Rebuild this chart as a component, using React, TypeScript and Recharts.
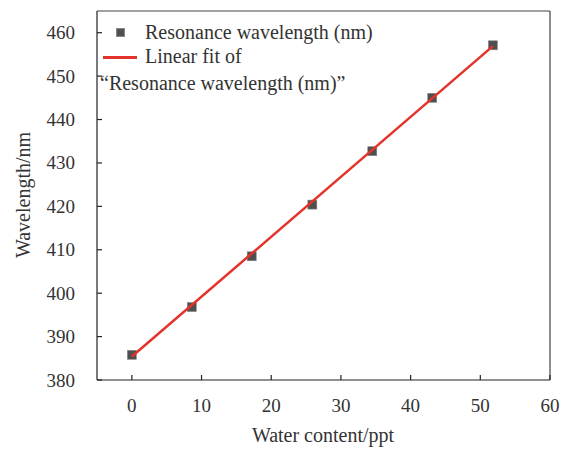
import React from 'react';
import { ScatterChart, Scatter, XAxis, YAxis, ReferenceLine } from 'recharts';

// measured points (water content in ppt vs resonance wavelength in nm)
const waterContent = [0, 8.6, 17.2, 25.9, 34.5, 43.1, 51.8];
const wavelength = [385.8, 396.8, 408.5, 420.4, 432.7, 445.0, 457.1];

// linear fit end points
const fitX = [0, 51.8];
const fitY = [385.4, 456.9];

const xTicks = [0, 10, 20, 30, 40, 50, 60];
const yTicks = [380, 390, 400, 410, 420, 430, 440, 450, 460];

const FONT = '"Liberation Serif", "Times New Roman", serif';
const TEXT = '#333';

const points = waterContent.map((x, i) => ({ x, y: wavelength[i] }));
const fit = fitX.map((x, i) => ({ x, y: fitY[i] }));

const Square = (props: any) => {
  const { cx, cy } = props;
  if (cx == null || cy == null) return null;
  return <rect x={cx - 4.5} y={cy - 4.5} width={9} height={9} fill="#4f4f4f" stroke="#8a8a8a" strokeWidth={0.6} />;
};

const XTick = (props: any) => {
  const { x, y, payload } = props;
  return (
    <g>
      <line x1={x} y1={y} x2={x} y2={y - 5} stroke="#222" strokeWidth={1.2} />
      <text x={x} y={y + 32} textAnchor="middle" fill={TEXT} fontSize={19} fontFamily={FONT}>
        {payload.value}
      </text>
    </g>
  );
};

const YTick = (props: any) => {
  const { x, y, payload } = props;
  return (
    <g>
      <line x1={x} y1={y} x2={x + 5} y2={y} stroke="#222" strokeWidth={1.2} />
      <text x={x - 22} y={y + 6.5} textAnchor="end" fill={TEXT} fontSize={19} fontFamily={FONT}>
        {payload.value}
      </text>
    </g>
  );
};

export default function App() {
  return (
    <div style={{ position: 'absolute', left: 0, top: 0, width: 562, height: 449, background: '#fff' }}>
      <ScatterChart width={562} height={449} margin={{ top: 11, right: 12, bottom: 29, left: 47 }}>
        <XAxis
          type="number"
          dataKey="x"
          domain={[-5, 60]}
          ticks={xTicks}
          tick={<XTick />}
          tickLine={false}
          tickSize={0}
          tickMargin={0}
          height={40}
          axisLine={{ stroke: '#222', strokeWidth: 1.2 }}
          allowDataOverflow
        />
        <YAxis
          type="number"
          dataKey="y"
          domain={[380, 465]}
          ticks={yTicks}
          tick={<YTick />}
          tickLine={false}
          tickSize={0}
          tickMargin={0}
          width={50}
          axisLine={{ stroke: '#222', strokeWidth: 1.2 }}
          allowDataOverflow
        />
        <ReferenceLine y={465} stroke="#444" strokeWidth={1.2} />
        <ReferenceLine x={60} stroke="#444" strokeWidth={1.2} />
        <Scatter data={points} shape={<Square />} isAnimationActive={false} />
        <Scatter
          data={fit}
          line={{ stroke: '#e3342c', strokeWidth: 2.5 }}
          shape={() => null}
          isAnimationActive={false}
        />
      </ScatterChart>

      {/* axis titles */}
      <div style={{ position: 'absolute', left: 0, width: 646, top: 424, textAlign: 'center', fontFamily: FONT, fontSize: 20, color: TEXT }}>
        Water content/ppt
      </div>
      <div
        style={{
          position: 'absolute', left: 23, top: 195, transform: 'translate(-50%, -50%) rotate(-90deg)',
          whiteSpace: 'nowrap', fontFamily: FONT, fontSize: 20, color: TEXT,
        }}
      >
        Wavelength/nm
      </div>

      {/* legend */}
      <div style={{ position: 'absolute', left: 116, top: 28, width: 9, height: 9, background: '#4f4f4f', border: '0.6px solid #8a8a8a', boxSizing: 'border-box' }} />
      <div style={{ position: 'absolute', left: 145, top: 21, fontFamily: FONT, fontSize: 20, color: TEXT, whiteSpace: 'nowrap' }}>
        Resonance wavelength (nm)
      </div>
      <div style={{ position: 'absolute', left: 103, top: 56, width: 34, height: 2.5, background: '#e3342c' }} />
      <div style={{ position: 'absolute', left: 145, top: 45, fontFamily: FONT, fontSize: 20, color: TEXT, whiteSpace: 'nowrap' }}>
        Linear fit of
      </div>
      <div style={{ position: 'absolute', left: 100, top: 72, fontFamily: FONT, fontSize: 20, color: TEXT, whiteSpace: 'nowrap' }}>
        “Resonance wavelength (nm)”
      </div>
    </div>
  );
}
